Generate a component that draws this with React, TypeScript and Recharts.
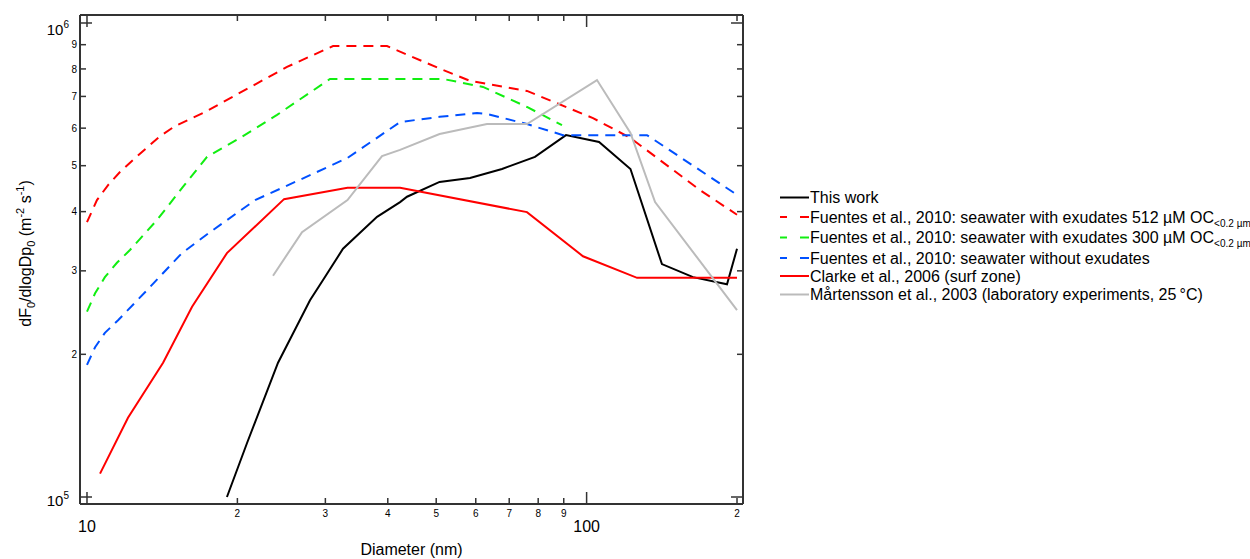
import React from 'react';
import { LineChart, Line, XAxis, YAxis, Legend } from 'recharts';

// ---- tick values ----
const xTicks = [10, 20, 30, 40, 50, 60, 70, 80, 90, 100, 200];
const xMajorTicks = [10, 100];
const yTicks = [1e5, 2e5, 3e5, 4e5, 5e5, 6e5, 7e5, 8e5, 9e5, 1e6];
const yMajorTicks = [1e5, 1e6];
const xDomain = [9.683, 205.6];
const yDomain = [9.666e4, 1.0396e6];

// ---- series (diameter nm, dF0/dlogDp0) ----
const thisWorkD = [19.06, 20.91, 24.12, 27.95, 29.68, 32.54, 38.07, 42.33, 43.71, 50.78, 58.43, 67.71, 78.82, 90.94, 105.9, 122.4, 141.5, 163.3, 191.0, 200];
const thisWorkV = [1.0e5, 1.3e5, 1.92e5, 2.6e5, 2.87e5, 3.34e5, 3.9e5, 4.19e5, 4.3e5, 4.62e5, 4.71e5, 4.92e5, 5.22e5, 5.8e5, 5.61e5, 4.92e5, 3.1e5, 2.91e5, 2.81e5, 3.34e5];

const f512D = [10, 10.47, 11.02, 11.64, 12.48, 14.0, 15.0, 17.23, 25.14, 31.08, 39.86, 51.6, 58.43, 75.97, 103.0, 122.4, 168.7, 200];
const f512V = [3.8e5, 4.23e5, 4.55e5, 4.85e5, 5.19e5, 5.77e5, 6.06e5, 6.49e5, 8.08e5, 8.94e5, 8.94e5, 7.96e5, 7.55e5, 7.19e5, 6.3e5, 5.72e5, 4.44e5, 3.94e5];

const f300D = [10, 10.38, 10.86, 11.48, 12.19, 13.81, 15.56, 17.39, 20.24, 24.01, 30.65, 51.6, 62.03, 75.97, 89.27];
const f300V = [2.46e5, 2.69e5, 2.91e5, 3.12e5, 3.32e5, 3.84e5, 4.51e5, 5.22e5, 5.72e5, 6.4e5, 7.62e5, 7.62e5, 7.33e5, 6.65e5, 6.09e5];

const fNoD = [10, 10.38, 10.86, 11.54, 13.18, 15.49, 17.63, 21.7, 26.69, 33.2, 42.33, 50.8, 60.34, 63.18, 75.97, 89.69, 132.1, 200];
const fNoV = [1.9e5, 2.07e5, 2.22e5, 2.36e5, 2.73e5, 3.27e5, 3.62e5, 4.23e5, 4.67e5, 5.19e5, 6.18e5, 6.34e5, 6.46e5, 6.43e5, 6.12e5, 5.8e5, 5.8e5, 4.34e5];

const clarkeD = [10.62, 12.08, 14.2, 16.23, 19.06, 24.8, 33.22, 42.33, 75.97, 98.35, 126.2, 200];
const clarkeV = [1.12e5, 1.47e5, 1.92e5, 2.52e5, 3.27e5, 4.25e5, 4.49e5, 4.49e5, 3.99e5, 3.22e5, 2.9e5, 2.9e5];

const martD = [23.57, 26.94, 33.22, 38.95, 42.33, 50.78, 63.18, 75.97, 104.9, 122.4, 137.1, 200];
const martV = [2.93e5, 3.62e5, 4.23e5, 5.24e5, 5.4e5, 5.83e5, 6.12e5, 6.12e5, 7.58e5, 5.86e5, 4.19e5, 2.48e5];

const toPts = (d: number[], v: number[]) => d.map((x, i) => ({ d: x, v: v[i] }));

const FONT = '"Liberation Sans", Arial, sans-serif';
const FRAME = '#333333';
const RED = '#ff0000';
const GREEN = '#11ee11';
const BLUE = '#0050ff';
const GRAY = '#bbbbbb';
const DASH = '10 7';

const series = [
  { key: 'tw', data: toPts(thisWorkD, thisWorkV), color: '#000000', dash: undefined },
  { key: 'f512', data: toPts(f512D, f512V), color: RED, dash: DASH },
  { key: 'f300', data: toPts(f300D, f300V), color: GREEN, dash: DASH },
  { key: 'fno', data: toPts(fNoD, fNoV), color: BLUE, dash: DASH },
  { key: 'clarke', data: toPts(clarkeD, clarkeV), color: RED, dash: undefined },
  { key: 'mart', data: toPts(martD, martV), color: GRAY, dash: undefined },
];

const XTickBottom = (props: any) => {
  const { x, y, payload } = props;
  const v = payload.value;
  const major = xMajorTicks.includes(v);
  const len = major ? 12 : 6;
  return (
    <g>
      <line x1={x} y1={y} x2={x} y2={y - len} stroke={FRAME} strokeWidth={1.5} />
      {major ? (
        <text x={x} y={y + 28} textAnchor="middle" fontSize={16} fontFamily={FONT} fill="#000">{v}</text>
      ) : (
        <text x={x} y={y + 12.5} textAnchor="middle" fontSize={10} fontFamily={FONT} fill="#000">{String(v).charAt(0)}</text>
      )}
    </g>
  );
};

const XTickTop = (props: any) => {
  const { x, y, payload } = props;
  const len = xMajorTicks.includes(payload.value) ? 12 : 6;
  return <line x1={x} y1={y} x2={x} y2={y + len} stroke={FRAME} strokeWidth={1.5} />;
};

const YTickLeft = (props: any) => {
  const { x, y, payload } = props;
  const v = payload.value;
  const major = yMajorTicks.includes(v);
  const len = major ? 12 : 6;
  const exp = Math.floor(Math.log10(v) + 1e-9);
  return (
    <g>
      <line x1={x} y1={y} x2={x + len} y2={y} stroke={FRAME} strokeWidth={1.5} />
      {major ? (
        <text x={x - 11} y={y + (exp === 6 ? 12 : 9)} textAnchor="end" fontSize={15} fontFamily={FONT} fill="#000">
          10<tspan fontSize={10} dy={-7}>{exp}</tspan>
        </text>
      ) : (
        <text x={x - 3} y={y + 3.6} textAnchor="end" fontSize={10} fontFamily={FONT} fill="#000">
          {String(Math.round(v / Math.pow(10, exp)))}
        </text>
      )}
    </g>
  );
};

const YTickRight = (props: any) => {
  const { x, y, payload } = props;
  const len = yMajorTicks.includes(payload.value) ? 12 : 6;
  return <line x1={x} y1={y} x2={x - len} y2={y} stroke={FRAME} strokeWidth={1.5} />;
};

const YTitle = (props: any) => {
  const vb = props.viewBox || { x: 79, y: 15, width: 1, height: 489 };
  const cx = vb.x + vb.width - 49;
  const cy = vb.y + vb.height / 2 - 6;
  return (
    <text transform={`translate(${cx},${cy}) rotate(-90)`} textAnchor="middle" fontSize={16} fontFamily={FONT} fill="#000">
      dF<tspan fontSize={11} dy={4}>0</tspan>
      <tspan dy={-4}>/dlogDp</tspan>
      <tspan fontSize={11} dy={4}>0</tspan>
      <tspan dy={-4}> (m</tspan>
      <tspan fontSize={11} dy={-7}>-2</tspan>
      <tspan dy={7}> s</tspan>
      <tspan fontSize={11} dy={-7}>-1</tspan>
      <tspan dy={7}>)</tspan>
    </text>
  );
};

const XTitle = (props: any) => {
  const vb = props.viewBox || { x: 80, y: 504, width: 663 };
  return (
    <text x={vb.x + vb.width / 2} y={vb.y + 51} textAnchor="middle" fontSize={16} fontFamily={FONT} fill="#000">
      Diameter (nm)
    </text>
  );
};

const legendRows = [
  { color: '#000000', dashed: false, y: 197.5, text: 'This work', sub: '' },
  { color: RED, dashed: true, y: 217, text: 'Fuentes et al., 2010: seawater with exudates 512 µM OC', sub: '<0.2 µm' },
  { color: GREEN, dashed: true, y: 237.5, text: 'Fuentes et al., 2010: seawater with exudates 300 µM OC', sub: '<0.2 µm' },
  { color: BLUE, dashed: true, y: 258, text: 'Fuentes et al., 2010: seawater without exudates', sub: '' },
  { color: RED, dashed: false, y: 276, text: 'Clarke et al., 2006 (surf zone)', sub: '' },
  { color: GRAY, dashed: false, y: 294.5, text: 'Mårtensson et al., 2003 (laboratory experiments, 25\u2009°C)', sub: '' },
];

const LEG_X = 770;
const LEG_Y = 185;

const renderLegend = () => (
  <svg width={480} height={125} style={{ display: 'block', overflow: 'visible' }}>
    {legendRows.map((r, i) => {
      const ly = r.y - LEG_Y;
      return (
        <g key={i}>
          {r.dashed ? (
            <g>
              <line x1={780 - LEG_X} y1={ly} x2={787 - LEG_X} y2={ly} stroke={r.color} strokeWidth={2} />
              <line x1={800 - LEG_X} y1={ly} x2={809 - LEG_X} y2={ly} stroke={r.color} strokeWidth={2} />
            </g>
          ) : (
            <line x1={780 - LEG_X} y1={ly} x2={809 - LEG_X} y2={ly} stroke={r.color} strokeWidth={2} />
          )}
          <text x={810 - LEG_X} y={ly + 5.5} fontSize={16} fontFamily={FONT} fill="#000">
            {r.text}
            {r.sub ? <tspan fontSize={10} dy={4}>{r.sub}</tspan> : null}
          </text>
        </g>
      );
    })}
  </svg>
);

export default function App() {
  return (
    <div style={{ position: 'absolute', left: 0, top: 0, width: 1250, height: 559, background: '#fff' }}>
      <LineChart width={1250} height={559} margin={{ top: 14, right: 506, bottom: 54, left: 79 }}>
        <XAxis
          xAxisId={0}
          dataKey="d"
          type="number"
          scale="log"
          domain={xDomain}
          allowDataOverflow
          ticks={xTicks}
          interval={0}
          height={1}
          tickSize={0}
          tickMargin={0}
          tick={<XTickBottom />}
          tickLine={false}
          axisLine={{ stroke: FRAME, strokeWidth: 2 }}
          label={<XTitle />}
        />
        <XAxis
          xAxisId="top"
          orientation="top"
          dataKey="d"
          type="number"
          scale="log"
          domain={xDomain}
          allowDataOverflow
          ticks={xTicks}
          interval={0}
          height={1}
          tickSize={0}
          tickMargin={0}
          tick={<XTickTop />}
          tickLine={false}
          axisLine={{ stroke: FRAME, strokeWidth: 2 }}
        />
        <YAxis
          yAxisId={0}
          dataKey="v"
          type="number"
          scale="log"
          domain={yDomain}
          allowDataOverflow
          ticks={yTicks}
          interval={0}
          width={1}
          tickSize={0}
          tickMargin={0}
          tick={<YTickLeft />}
          tickLine={false}
          axisLine={{ stroke: FRAME, strokeWidth: 2 }}
          label={<YTitle />}
        />
        <YAxis
          yAxisId="right"
          orientation="right"
          dataKey="v"
          type="number"
          scale="log"
          domain={yDomain}
          allowDataOverflow
          ticks={yTicks}
          interval={0}
          width={1}
          tickSize={0}
          tickMargin={0}
          tick={<YTickRight />}
          tickLine={false}
          axisLine={{ stroke: FRAME, strokeWidth: 2 }}
        />
        {series.map((s) => (
          <Line
            key={s.key}
            xAxisId={0}
            yAxisId={0}
            data={s.data}
            dataKey="v"
            type="linear"
            stroke={s.color}
            strokeWidth={2}
            strokeDasharray={s.dash}
            dot={false}
            activeDot={false}
            isAnimationActive={false}
          />
        ))}
        <Legend
          layout="vertical"
          align="center"
          verticalAlign="middle"
          content={renderLegend}
          wrapperStyle={{ left: LEG_X, top: LEG_Y, width: 480, height: 125 }}
        />
      </LineChart>
    </div>
  );
}
